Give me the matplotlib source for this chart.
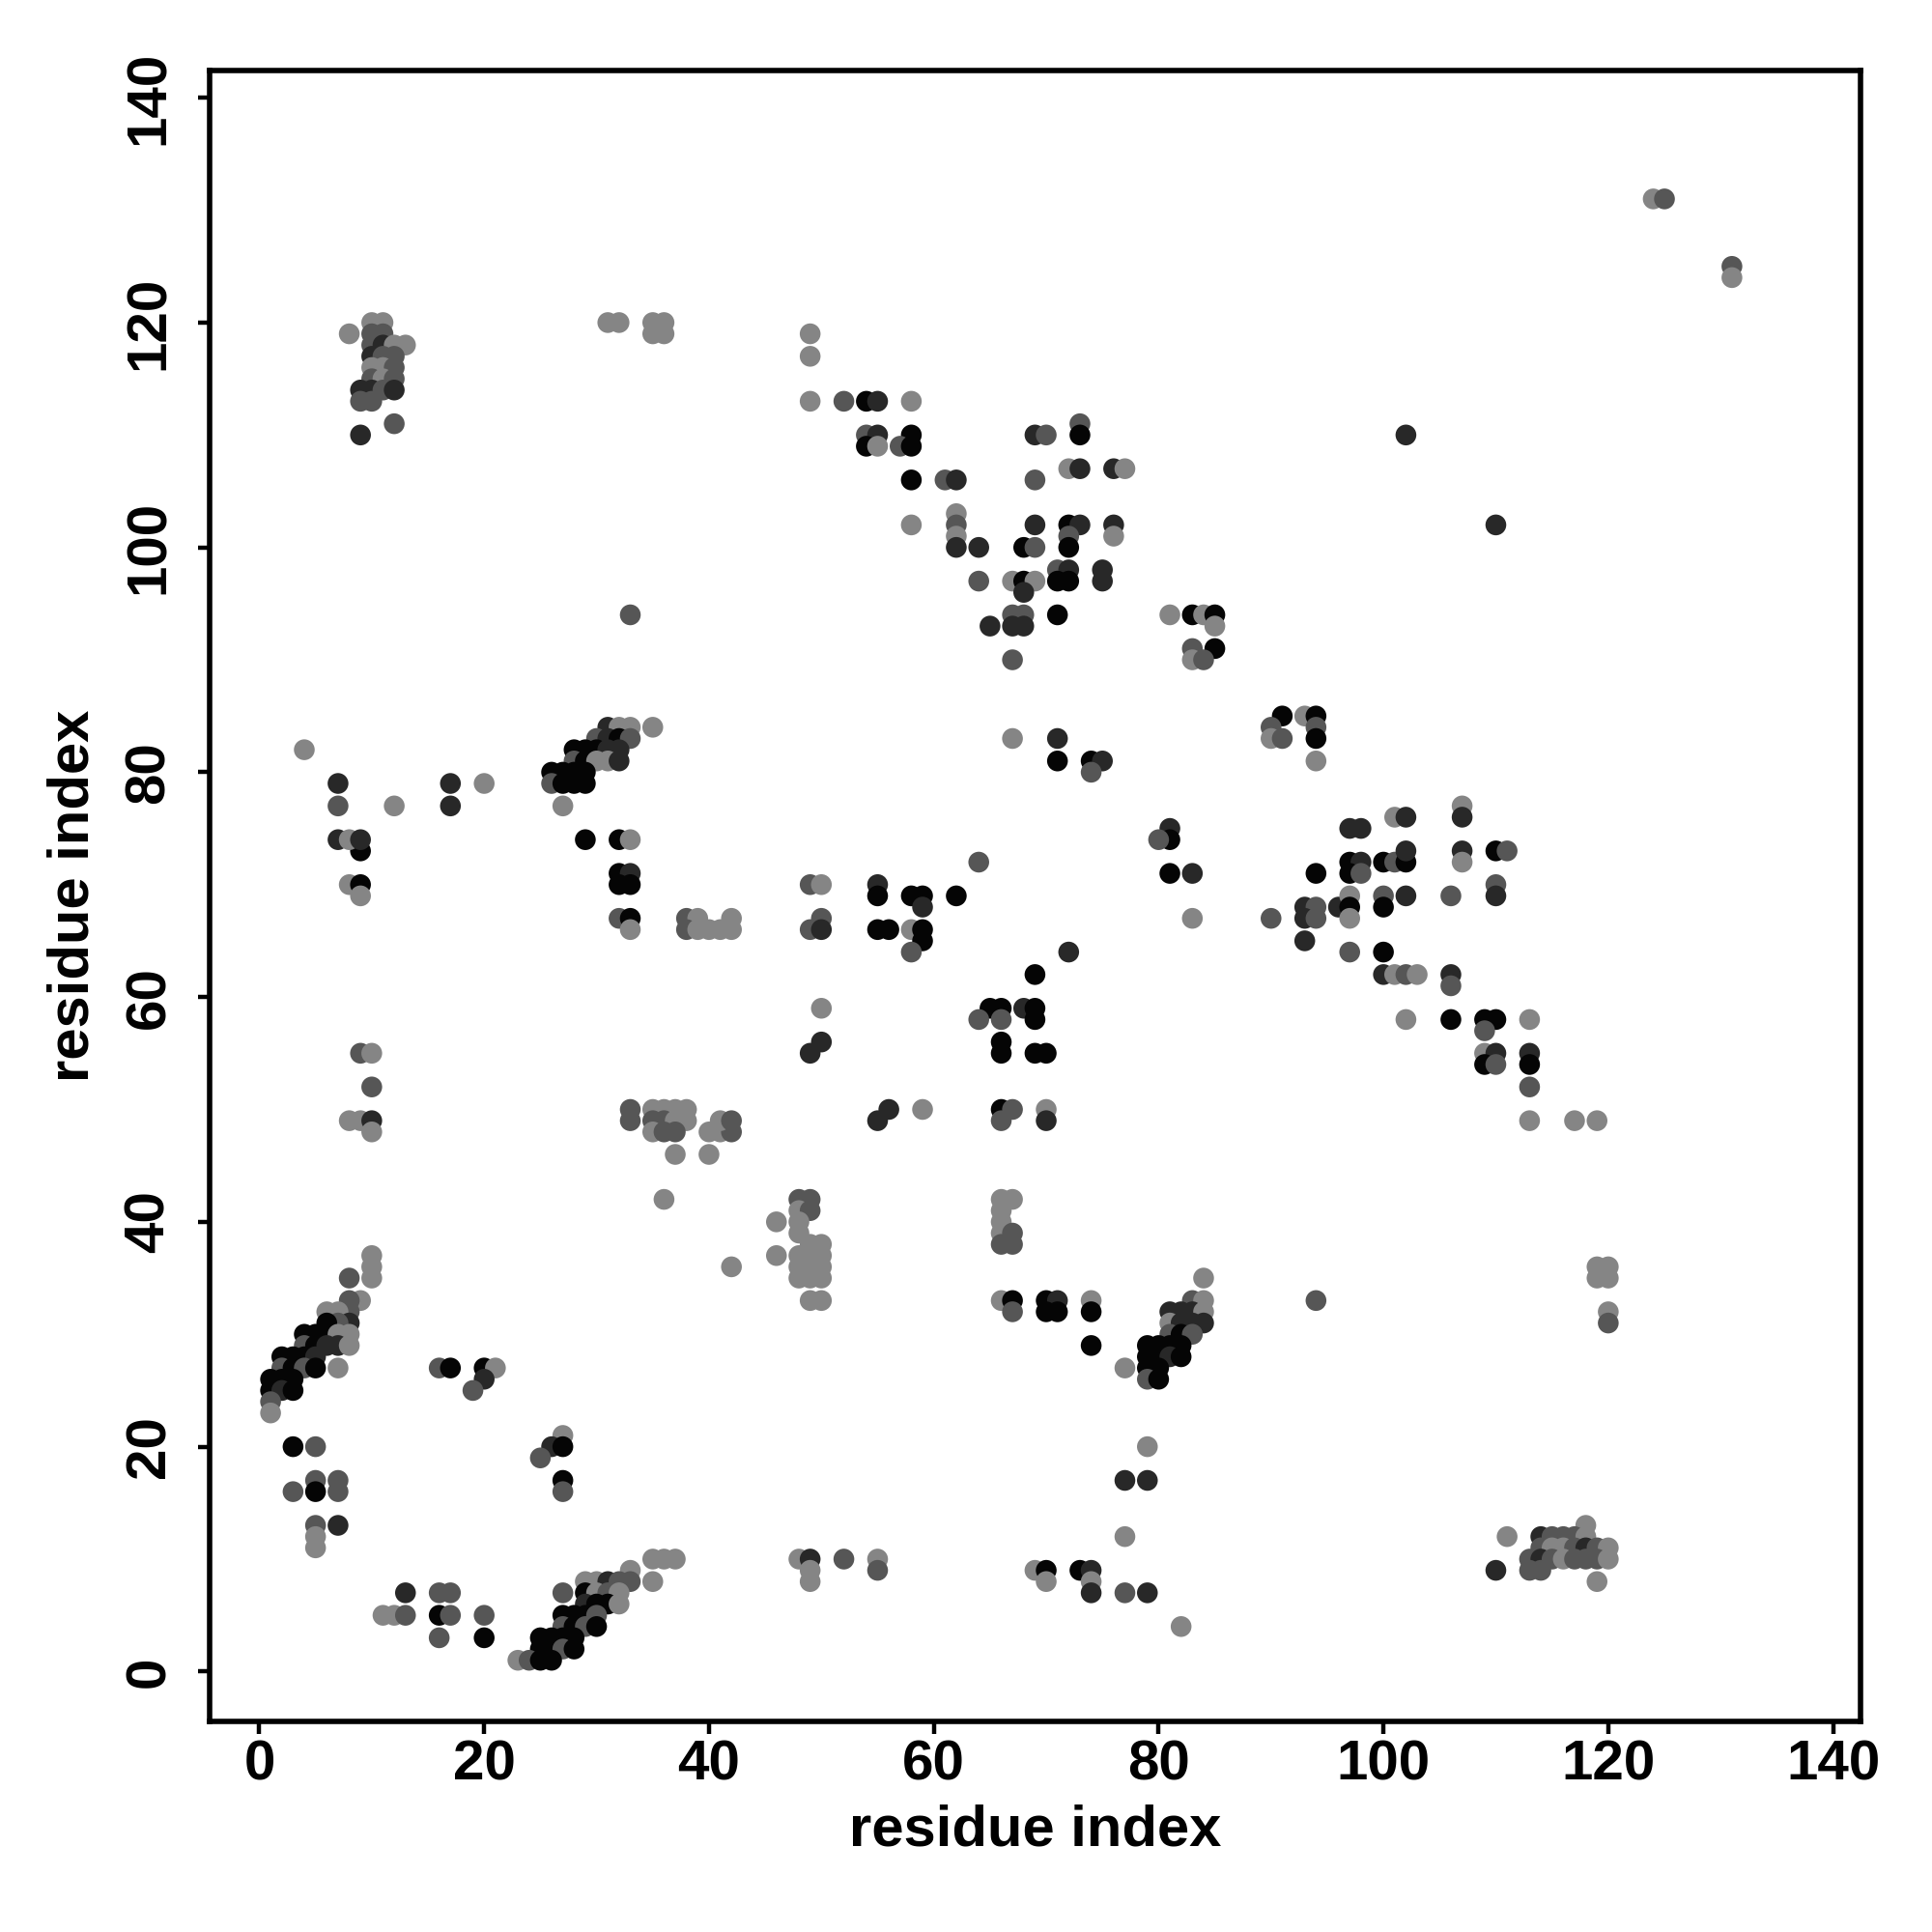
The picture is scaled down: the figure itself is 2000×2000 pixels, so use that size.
import numpy as np
import matplotlib
matplotlib.use("Agg")
import matplotlib.pyplot as plt

# contact map: residue pairs (i, j) and a strength code
# K = strongest (black) ... L = weakest (light grey)
contacts = """
10 37 L|10 36 L|10 35 L|8 35 M|9 33 L|8 33 M|8 32 M|6 32 L|7 32 L|8 31 D|7 31 M|6 31 K
4 30 K|5 30 K|6 30 K|7 30 L|8 30 L|4 29 M|5 29 K|6 29 D|7 29 D|8 29 L
2 28 K|3 28 K|4 28 K|5 28 D|2 27 M|3 27 K|4 27 M|5 27 K|7 27 L
1 26 K|2 26 K|3 26 K|1 25 K|2 25 D|3 25 K|1 24 M|1 23 L
16 27 M|17 27 K|20 27 K|21 27 L|20 26 D|19 25 M
3 20 K|5 20 M|5 17 M|7 17 M|3 16 M|5 16 K|7 16 M|5 13 M|7 13 D|5 12 L|5 11 L
27 21 L|26 20 D|27 20 K|25 19 M|27 17 K|27 16 M
13 7 D|16 7 M|17 7 M|11 5 L|12 5 L|13 5 M|16 5 K|17 5 M|20 5 M|16 3 M|20 3 K
35 10 L|36 10 L|37 10 L|33 9 L|29 8 L|30 8 L|31 8 D|32 8 M|33 8 M|35 8 L
27 7 M|29 7 K|30 7 L|31 7 M|32 7 L|29 6 D|30 6 K|31 6 K|32 6 L
27 5 K|28 5 K|29 5 K|30 5 M|27 4 M|28 4 K|29 4 M|30 4 K
25 3 K|26 3 K|27 3 K|28 3 K|25 2 K|26 2 K|27 2 M|28 2 K
23 1 L|24 1 M|25 1 K|26 1 K|42 36 L
46 37 L|48 37 L|48 36 L|48 35 L|49 37 L|49 36 L|49 35 L|50 37 L|50 36 L|50 35 L|49 33 L|50 33 L
66 33 L|67 33 K|70 33 K|71 33 D|74 33 L|67 32 M|70 32 K|71 32 K|74 32 K|74 29 K|77 27 L
84 35 L|83 33 M|84 33 L|81 32 D|82 32 D|83 32 D|84 32 L|81 31 L|82 31 D|83 31 D|84 31 D
81 30 M|82 30 K|83 30 M|79 29 K|80 29 K|81 29 K|82 29 K|79 28 K|80 28 K|81 28 D|82 28 K
79 27 K|80 27 K|79 26 M|80 26 K
79 20 L|77 17 D|79 17 D|77 12 L
48 10 L|49 10 D|52 10 M|55 10 L|49 9 L|55 9 M|69 9 L|70 9 K|73 9 K|74 9 D
49 8 L|70 8 L|74 8 L|74 7 D|77 7 M|79 7 D|82 4 L
119 36 L|120 36 L|119 35 L|120 35 L|120 32 L|120 31 M|94 33 M|118 13 L
111 12 L|114 12 D|115 12 M|116 12 M|117 12 M|118 12 L
114 11 M|115 11 L|116 11 L|117 11 M|118 11 D|119 11 M|120 11 L
113 10 M|114 10 D|115 10 M|116 10 L|117 10 M|118 10 M|119 10 M|120 10 L
110 9 D|113 9 M|114 9 M|119 8 L
9 73 K|8 70 L|9 70 K|9 69 L|32 71 K|33 71 D|32 70 K|33 70 K|32 67 M|33 67 K|33 66 L
38 67 M|39 67 L|42 67 L|38 66 M|39 66 L|40 66 L|41 66 L|42 66 L
9 55 M|10 55 L|10 52 M|8 49 L|9 49 L|10 49 D|10 48 L|33 50 M|33 49 M
35 50 L|36 50 L|37 50 L|38 50 L|35 49 M|36 49 M|37 49 L|38 49 L
35 48 L|36 48 M|37 48 M|40 48 L|41 48 L|42 48 M|41 49 L|42 49 M|37 46 L|40 46 L|36 42 L
64 72 M|49 70 M|50 70 L|55 70 D|55 69 K|58 69 K|59 69 K|59 68 D|62 69 K
50 67 M|49 66 M|50 66 D|55 66 K|56 66 K|58 66 L|59 66 K|59 65 K|58 64 M
72 64 D|69 62 K|50 59 L|65 59 K|66 59 K|68 59 D|69 59 K|64 58 M|66 58 M|69 58 K
50 56 D|49 55 D|66 56 K|66 55 K|69 55 K|70 55 K|56 50 D|55 49 D|59 50 L
66 50 K|67 50 M|66 49 M|70 50 L|70 49 D
48 42 M|49 42 M|48 41 L|49 41 M|46 40 L|48 40 L|48 39 L|49 38 L|50 38 L
66 42 L|67 42 L|66 41 L|66 40 L|66 39 L|67 39 M|66 38 M|67 38 M
81 71 K|83 71 D|83 67 L|90 67 M
94 71 K|97 72 K|98 72 D|97 71 K|98 71 M|100 72 K|101 72 M|102 72 K|102 73 D
107 73 D|107 72 L|110 73 K|111 73 M|93 68 D|94 68 M|93 67 D|94 67 M
96 68 D|97 69 L|97 68 K|97 67 L|100 69 M|100 68 K|102 69 D|106 69 M|110 70 M|110 69 D
93 65 D|97 64 M|100 64 K|100 62 D|101 62 L|102 62 M|103 62 L|106 62 D|106 61 M
102 58 L|106 58 K|109 58 K|110 58 K|113 58 L|109 57 M
109 55 L|110 55 D|113 55 D|109 54 K|110 54 M|113 54 K|113 52 M|113 49 L|117 49 L|119 49 L
33 94 M|4 82 L|31 84 D|32 84 L|33 84 L|35 84 L|30 83 M|31 83 D|32 83 K|33 83 M
28 82 K|29 82 K|30 82 K|31 82 D|32 82 D|28 81 M|29 81 K|30 81 L|31 81 L|32 81 D
26 80 K|27 80 K|28 80 K|29 80 K|26 79 M|27 79 K|28 79 K|29 79 K
27 77 L|7 79 D|7 77 M|12 77 L|17 79 D|17 77 D|20 79 L|7 74 D|8 74 L|9 74 D
29 74 K|32 74 K|33 74 L
58 106 K|61 106 M|62 106 D|69 106 M|72 107 L|73 107 D|76 107 D|77 107 L
58 102 L|62 103 L|62 102 M|62 101 L|62 100 D|64 100 D
69 102 D|72 102 K|73 102 D|76 102 D|76 101 L|72 101 M|72 100 K|68 100 K|69 100 M
64 97 M|67 97 L|68 97 K|69 97 L|68 96 D|71 98 M|72 98 D|71 97 K|72 97 K|75 98 D|75 97 D
67 94 M|68 94 M|65 93 D|67 93 D|68 93 D|71 94 K|67 90 M
81 94 L|83 94 K|84 94 L|85 94 K|85 93 L|83 91 M|85 91 K|83 90 L|84 90 M
91 85 K|90 84 M|90 83 L|91 83 M|93 85 L|67 83 L|71 83 D|71 81 K|74 81 K|75 81 D|74 80 M
81 75 D|81 74 K|80 74 M
110 102 D|94 85 K|94 84 M|94 83 K|94 81 L|107 77 L|107 76 D|97 75 D|98 75 D|101 76 L|102 76 D
8 119 L|10 120 L|11 120 L|10 119 M|11 119 M|10 118 M|11 118 D|12 118 L|13 118 L
10 117 D|11 117 M|12 117 M|10 116 L|11 116 L|12 116 M|10 115 M|11 115 L|12 115 M
9 114 D|10 114 D|11 114 M|12 114 D|9 113 M|10 113 M|12 111 M|9 110 D
31 120 L|32 120 L|35 120 L|36 120 L|35 119 L|36 119 L
49 119 L|49 117 L|49 113 L|52 113 M|54 113 K|55 113 D|58 113 L
54 110 M|55 110 D|58 110 K|54 109 K|55 109 L|57 109 M|58 109 K
69 110 D|70 110 M|73 111 M|73 110 K
124 131 L|125 131 M|131 125 M|131 124 L|102 110 D
"""

level_prob = {"K": 0.95, "D": 0.8, "M": 0.6, "L": 0.4}

res_i, res_j, prob = [], [], []
for item in contacts.replace("\n", "|").split("|"):
    item = item.strip()
    if not item:
        continue
    a, b, c = item.split()
    res_i.append(int(a))
    res_j.append(int(b))
    prob.append(level_prob[c])

res_i = np.array(res_i)
res_j = np.array(res_j)
prob = np.array(prob)

# stronger contact -> darker grey
grey = 0.52 - 0.5 * (prob - 0.4) / 0.55
colors = [(g, g, g) for g in grey]

plt.rcParams['font.family'] = ['Liberation Sans', 'DejaVu Sans']
plt.rcParams['font.weight'] = 'bold'

fig = plt.figure(figsize=(10, 10), dpi=200)
ax = fig.add_axes([0.1084, 0.109, 0.8546, 0.8546])

ax.scatter(res_i, res_j, s=60, c=colors, linewidths=0, zorder=2)

ax.set_xlim(-4.44, 142.44)
ax.set_ylim(-4.44, 142.44)
ticks = np.arange(0, 141, 20)
ax.set_xticks(ticks)
ax.set_yticks(ticks)
ax.set_xticklabels([str(t) for t in ticks], fontsize=21, fontweight='bold')
ax.set_yticklabels([str(t) for t in ticks], fontsize=21, fontweight='bold',
                   rotation=90, va='center')
ax.tick_params(axis='both', direction='out', length=4.5, width=1.6)
ax.tick_params(axis='x', pad=2)
ax.tick_params(axis='y', pad=8)
for sp in ax.spines.values():
    sp.set_linewidth(2.0)

ax.set_xlabel("residue index", fontsize=21.5, fontweight='bold', labelpad=5)
ax.set_ylabel("residue index", fontsize=21.5, fontweight='bold', labelpad=9)

fig.savefig("out.png", dpi=200, facecolor='white')
